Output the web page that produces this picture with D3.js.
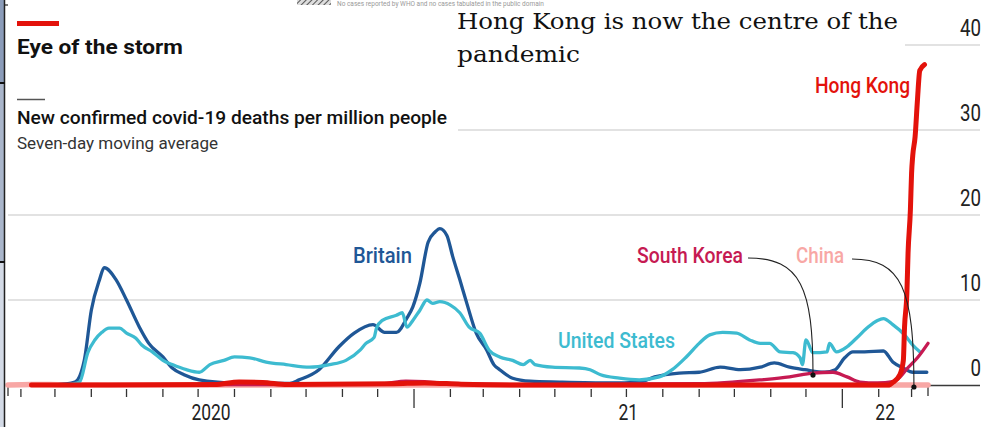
<!DOCTYPE html>
<html>
<head>
<meta charset="utf-8">
<script src="https://cdn.jsdelivr.net/npm/d3@7"></script>
<style>
  html, body { margin: 0; padding: 0; background: #fff; overflow: hidden; }
  svg { display: block; }
</style>
</head>
<body>
<svg id="chart" width="989" height="427"></svg>
<script>
// Seven-day moving average of new confirmed covid-19 deaths per million people
const countries = ["Britain", "United States", "South Korea", "China", "Hong Kong"];

const britain = [
  ["2020-03-01", 0.0], ["2020-03-18", 0.35], ["2020-03-26", 2.9], ["2020-04-01", 8.8],
  ["2020-04-08", 12.4], ["2020-04-12", 13.8], ["2020-04-22", 12.4], ["2020-05-01", 10.0],
  ["2020-05-12", 6.8], ["2020-05-20", 4.9], ["2020-06-01", 3.3], ["2020-06-09", 2.0],
  ["2020-06-19", 1.2], ["2020-07-02", 0.6], ["2020-07-30", 0.25], ["2020-09-17", 0.2],
  ["2020-09-25", 0.6], ["2020-10-12", 1.8], ["2020-10-29", 4.5], ["2020-11-11", 6.1],
  ["2020-11-27", 7.1], ["2020-12-07", 6.2], ["2020-12-17", 6.2], ["2020-12-26", 7.9],
  ["2020-12-31", 9.2], ["2021-01-06", 12.0], ["2021-01-13", 16.8], ["2021-01-19", 18.0],
  ["2021-01-23", 18.4], ["2021-01-29", 17.6], ["2021-02-03", 15.1], ["2021-02-09", 12.4],
  ["2021-02-15", 9.6], ["2021-02-23", 6.1], ["2021-03-04", 4.1], ["2021-03-10", 2.4],
  ["2021-03-15", 1.8], ["2021-03-26", 0.8], ["2021-04-10", 0.45], ["2021-05-05", 0.35],
  ["2021-06-17", 0.25], ["2021-07-12", 0.35], ["2021-07-25", 0.95], ["2021-08-15", 1.4],
  ["2021-09-01", 1.5], ["2021-09-19", 2.1], ["2021-10-06", 1.8], ["2021-10-23", 2.1],
  ["2021-11-04", 2.6], ["2021-11-17", 2.1], ["2021-11-30", 1.8], ["2021-12-17", 1.5],
  ["2021-12-26", 1.8], ["2022-01-03", 3.2], ["2022-01-10", 3.9], ["2022-01-20", 3.9],
  ["2022-02-05", 4.0], ["2022-02-13", 2.7], ["2022-02-22", 2.0], ["2022-03-02", 1.5],
  ["2022-03-14", 1.5]
];

const unitedStates = [
  ["2020-03-10", 0.0], ["2020-03-22", 0.35], ["2020-03-29", 3.8], ["2020-04-04", 5.3],
  ["2020-04-10", 6.2], ["2020-04-16", 6.7], ["2020-04-25", 6.7], ["2020-05-01", 6.1],
  ["2020-05-09", 5.5], ["2020-05-14", 4.7], ["2020-05-23", 3.9], ["2020-06-01", 2.9],
  ["2020-06-09", 2.4], ["2020-06-21", 1.8], ["2020-07-02", 1.5], ["2020-07-11", 2.4],
  ["2020-07-23", 2.9], ["2020-08-01", 3.3], ["2020-08-14", 3.2], ["2020-08-28", 2.7],
  ["2020-09-14", 2.4], ["2020-10-04", 2.1], ["2020-10-21", 2.4], ["2020-11-04", 2.9],
  ["2020-11-16", 4.1], ["2020-11-21", 4.9], ["2020-11-28", 5.6], ["2020-11-30", 6.7],
  ["2020-12-05", 7.6], ["2020-12-17", 8.2], ["2020-12-22", 8.5], ["2020-12-26", 6.8],
  ["2020-12-31", 7.6], ["2021-01-06", 8.8], ["2021-01-12", 10.0], ["2021-01-17", 9.6],
  ["2021-01-23", 9.8], ["2021-02-01", 9.4], ["2021-02-09", 8.5], ["2021-02-17", 6.8],
  ["2021-02-26", 6.1], ["2021-03-06", 4.1], ["2021-03-15", 3.3], ["2021-03-26", 2.9],
  ["2021-04-04", 2.4], ["2021-04-10", 2.9], ["2021-04-14", 2.4], ["2021-04-29", 2.1],
  ["2021-05-22", 2.0], ["2021-05-31", 1.8], ["2021-06-09", 1.2], ["2021-06-25", 0.8],
  ["2021-07-12", 0.6], ["2021-07-29", 0.95], ["2021-08-09", 1.8], ["2021-08-21", 3.3],
  ["2021-09-01", 4.9], ["2021-09-10", 5.9], ["2021-09-21", 6.2], ["2021-10-03", 6.1],
  ["2021-10-14", 5.3], ["2021-10-23", 4.9], ["2021-10-31", 4.9], ["2021-11-09", 3.9],
  ["2021-11-20", 3.8], ["2021-11-26", 3.2], ["2021-11-28", 2.4], ["2021-12-01", 5.3],
  ["2021-12-07", 3.8], ["2021-12-19", 3.9], ["2021-12-21", 4.9], ["2021-12-27", 3.9],
  ["2022-01-05", 4.5], ["2022-01-13", 5.5], ["2022-01-22", 6.7], ["2022-01-31", 7.6],
  ["2022-02-05", 7.8], ["2022-02-13", 7.1], ["2022-02-23", 5.9], ["2022-03-02", 4.7],
  ["2022-03-08", 3.9]
];

const southKorea = [
  ["2020-02-20", 0.0], ["2020-03-20", 0.05], ["2020-09-01", 0.05], ["2020-12-05", 0.15],
  ["2020-12-25", 0.45], ["2021-01-10", 0.4], ["2021-02-01", 0.15], ["2021-04-01", 0.05],
  ["2021-09-01", 0.15], ["2021-10-23", 0.6], ["2021-11-17", 0.95], ["2021-12-07", 1.4],
  ["2021-12-24", 1.5], ["2022-01-05", 0.95], ["2022-01-16", 0.35], ["2022-01-31", 0.25],
  ["2022-02-13", 0.4], ["2022-02-19", 0.9], ["2022-02-25", 1.9], ["2022-03-06", 3.2],
  ["2022-03-15", 4.9]
];

const china = [
  ["2020-01-21", 0.0], ["2020-02-10", 0.07], ["2020-03-10", 0.02], ["2020-06-01", 0.0],
  ["2021-06-01", 0.0], ["2022-03-15", 0.0]
];

const hongKong = [
  ["2020-02-10", 0.0], ["2020-07-15", 0.05], ["2020-08-05", 0.35], ["2020-08-25", 0.3],
  ["2020-09-15", 0.05], ["2020-12-15", 0.15], ["2021-01-10", 0.25], ["2021-02-10", 0.1],
  ["2021-04-01", 0.0], ["2022-02-10", 0.0], ["2022-02-13", 0.3], ["2022-02-19", 1.2],
  ["2022-02-22", 2.9], ["2022-02-23", 6.8], ["2022-02-25", 10.8], ["2022-02-26", 15.5],
  ["2022-02-28", 20.6], ["2022-03-01", 24.9], ["2022-03-02", 27.0], ["2022-03-04", 29.2],
  ["2022-03-06", 33.5], ["2022-03-08", 37.0], ["2022-03-12", 37.7]
];

const yTicks = [0, 10, 20, 30, 40];
const yearLabels = ["2020", "21", "22"];

const colors = {
  "Britain": "#1f5796",
  "United States": "#3dbbd0",
  "South Korea": "#c61a52",
  "China": "#f8a7a5",
  "Hong Kong": "#e3120b"
};

const SANS = "Roboto, 'Noto Sans', sans-serif";
const svg = d3.select("#chart");

const start = new Date("2020-01-21"), end = new Date("2022-03-15");
const x = d3.scaleUtc().domain([start, end]).range([8, 928]);
const y = d3.scaleLinear().domain([0, 40]).range([385, 45]);

// horizontal gridlines
svg.append("g").selectAll("line").data(yTicks.filter(d => d > 0)).join("line")
  .attr("x1", 8).attr("x2", 980)
  .attr("y1", d => y(d)).attr("y2", d => y(d))
  .attr("stroke", "#d9d9d9").attr("stroke-width", 1.3);

// zero baseline
svg.append("line").attr("x1", 8).attr("x2", 980)
  .attr("y1", y(0) + 0.5).attr("y2", y(0) + 0.5)
  .attr("stroke", "#3a3a3a").attr("stroke-width", 1.3);

// y-axis labels on the right
svg.append("g").selectAll("text").data(yTicks).join("text")
  .attr("x", 981).attr("y", d => y(d) - 9)
  .attr("text-anchor", "end")
  .attr("font-family", SANS).attr("font-size", 23).attr("fill", "#222")
  .attr("textLength", d => String(d).length * 10.5)
  .attr("lengthAdjust", "spacingAndGlyphs")
  .text(d => d);

// month ticks along the bottom
const months = d3.utcMonth.range(d3.utcMonth.ceil(start), end);
svg.append("g").selectAll("line").data(months).join("line")
  .attr("x1", d => x(d)).attr("x2", d => x(d))
  .attr("y1", 389)
  .attr("y2", d => d.getUTCMonth() === 0 ? 408 : 397)
  .attr("stroke", "#333").attr("stroke-width", 1.3);
svg.append("g").selectAll("line").data([start, end]).join("line")
  .attr("x1", d => x(d)).attr("x2", d => x(d))
  .attr("y1", 384).attr("y2", 396)
  .attr("stroke", "#333").attr("stroke-width", 1.3);

// year labels, centred on each year's visible span
svg.append("g").selectAll("text").data(yearLabels).join("text")
  .attr("x", (d, i) => {
    const y0 = new Date(Date.UTC(2020 + i, 0, 1)), y1 = new Date(Date.UTC(2021 + i, 0, 1));
    return (x(y0 < start ? start : y0) + x(y1 > end ? end : y1)) / 2;
  })
  .attr("y", 420)
  .attr("text-anchor", "middle")
  .attr("font-family", SANS).attr("font-size", 22).attr("fill", "#222")
  .attr("textLength", d => d.length * 9.8)
  .attr("lengthAdjust", "spacingAndGlyphs")
  .text(d => d);

// series lines
const line = d3.line()
  .x(d => x(new Date(d[0])))
  .y(d => y(d[1]))
  .curve(d3.curveMonotoneX);

const series = [
  { name: "China", data: china, width: 5.5 },
  { name: "Britain", data: britain, width: 3.3 },
  { name: "United States", data: unitedStates, width: 3.3 },
  { name: "South Korea", data: southKorea, width: 3.3 },
  { name: "Hong Kong", data: hongKong, width: 5 }
];
svg.append("g").selectAll("path").data(series).join("path")
  .attr("d", d => line(d.data))
  .attr("fill", "none")
  .attr("stroke", d => colors[d.name])
  .attr("stroke-width", d => d.width)
  .attr("stroke-linejoin", "round")
  .attr("stroke-linecap", "round");

// panel backgrounds that sit above the upper gridlines
svg.append("rect").attr("x", 0).attr("y", 0).attr("width", 458).attr("height", 155).attr("fill", "#fff");
svg.append("rect").attr("x", 440).attr("y", 0).attr("width", 465).attr("height", 72).attr("fill", "#fff");

// series labels
const labels = [
  { name: "Britain", x: 353, y: 263, w: 59 },
  { name: "United States", x: 558, y: 348, w: 117 },
  { name: "South Korea", x: 637, y: 263, w: 106 },
  { name: "China", x: 796, y: 263, w: 48 },
  { name: "Hong Kong", x: 815, y: 93, w: 95 }
];
svg.append("g").selectAll("text").data(labels).join("text")
  .attr("x", d => d.x).attr("y", d => d.y)
  .attr("font-family", SANS).attr("font-size", 22).attr("font-weight", 500)
  .attr("fill", d => colors[d.name])
  .attr("textLength", d => d.w).attr("lengthAdjust", "spacingAndGlyphs")
  .text(d => d.name);

// leader lines from labels to their series
function valueAt(data, date) {
  const t = date.getTime();
  for (let i = 1; i < data.length; i++) {
    const a = new Date(data[i - 1][0]).getTime(), b = new Date(data[i][0]).getTime();
    if (t <= b) return data[i - 1][1] + (data[i][1] - data[i - 1][1]) * (t - a) / (b - a);
  }
  return data[data.length - 1][1];
}
const leaders = [
  { from: [748, 258], date: new Date("2021-12-07"), data: southKorea },
  { from: [852, 259], date: new Date("2022-03-03"), data: china }
];
leaders.forEach(l => {
  const tx = x(l.date), ty = y(valueAt(l.data, l.date)) + 2;
  const p = d3.path();
  p.moveTo(l.from[0], l.from[1]);
  p.bezierCurveTo(tx - 12, l.from[1], tx, l.from[1] + 30, tx, ty);
  svg.append("path").attr("d", p.toString()).attr("fill", "none")
    .attr("stroke", "#222").attr("stroke-width", 1.1);
  svg.append("circle").attr("cx", tx).attr("cy", ty).attr("r", 2.6).attr("fill", "#111");
});

// header: red tag, title, rule and subtitle
svg.append("rect").attr("x", 17).attr("y", 21).attr("width", 42).attr("height", 5).attr("fill", "#e3120b");
svg.append("text").attr("x", 17).attr("y", 54)
  .attr("font-family", SANS).attr("font-size", 21).attr("font-weight", 700).attr("fill", "#111")
  .attr("textLength", 166).attr("lengthAdjust", "spacingAndGlyphs")
  .text("Eye of the storm");
svg.append("line").attr("x1", 17).attr("x2", 45).attr("y1", 99.5).attr("y2", 99.5)
  .attr("stroke", "#555").attr("stroke-width", 1.5);
svg.append("text").attr("x", 17).attr("y", 124)
  .attr("font-family", SANS).attr("font-size", 19).attr("font-weight", 500).attr("fill", "#111")
  .attr("textLength", 430).attr("lengthAdjust", "spacingAndGlyphs")
  .text("New confirmed covid-19 deaths per million people");
svg.append("text").attr("x", 17).attr("y", 149)
  .attr("font-family", SANS).attr("font-size", 17).attr("fill", "#333")
  .attr("textLength", 201).attr("lengthAdjust", "spacingAndGlyphs")
  .text("Seven-day moving average");

// headline
const headline = svg.append("text").attr("font-family", "'DejaVu Serif', serif")
  .attr("font-size", 22.5).attr("fill", "#111");
headline.append("tspan").attr("x", 457).attr("y", 29)
  .attr("textLength", 441).attr("lengthAdjust", "spacingAndGlyphs")
  .text("Hong Kong is now the centre of the");
headline.append("tspan").attr("x", 457).attr("y", 62)
  .attr("textLength", 123).attr("lengthAdjust", "spacingAndGlyphs")
  .text("pandemic");

// hatched key at the top edge
const defs = svg.append("defs");
const pat = defs.append("pattern").attr("id", "hatch").attr("patternUnits", "userSpaceOnUse")
  .attr("width", 4).attr("height", 4).attr("patternTransform", "rotate(45)");
pat.append("rect").attr("width", 4).attr("height", 4).attr("fill", "#ddd");
pat.append("line").attr("x1", 0).attr("y1", 0).attr("x2", 0).attr("y2", 4)
  .attr("stroke", "#555").attr("stroke-width", 2);
svg.append("rect").attr("x", 297).attr("y", 0).attr("width", 34).attr("height", 5).attr("fill", "url(#hatch)");
svg.append("text").attr("x", 337).attr("y", 5.5)
  .attr("font-family", SANS).attr("font-size", 6.5).attr("fill", "#999")
  .text("No cases reported by WHO and no cases tabulated in the public domain");

// window edge on the left
const edge = [
  { y0: 0, y1: 83, c: "#8b9cb9" },
  { y0: 83, y1: 262, c: "#aab6cb" },
  { y0: 262, y1: 427, c: "#d3dae6" }
];
svg.append("g").selectAll("rect").data(edge).join("rect")
  .attr("x", 0).attr("y", d => d.y0).attr("width", 4).attr("height", d => d.y1 - d.y0)
  .attr("fill", d => d.c);
svg.append("line").attr("x1", 4.5).attr("x2", 4.5).attr("y1", 0).attr("y2", 427)
  .attr("stroke", "#222").attr("stroke-width", 1.5);
svg.append("g").selectAll("line").data([83, 262]).join("line")
  .attr("x1", 0).attr("x2", 5).attr("y1", d => d).attr("y2", d => d)
  .attr("stroke", "#111").attr("stroke-width", 2);
svg.append("line").attr("x1", 5).attr("x2", 8).attr("y1", 5).attr("y2", 5)
  .attr("stroke", "#222").attr("stroke-width", 1.2);
</script>
</body>
</html>
